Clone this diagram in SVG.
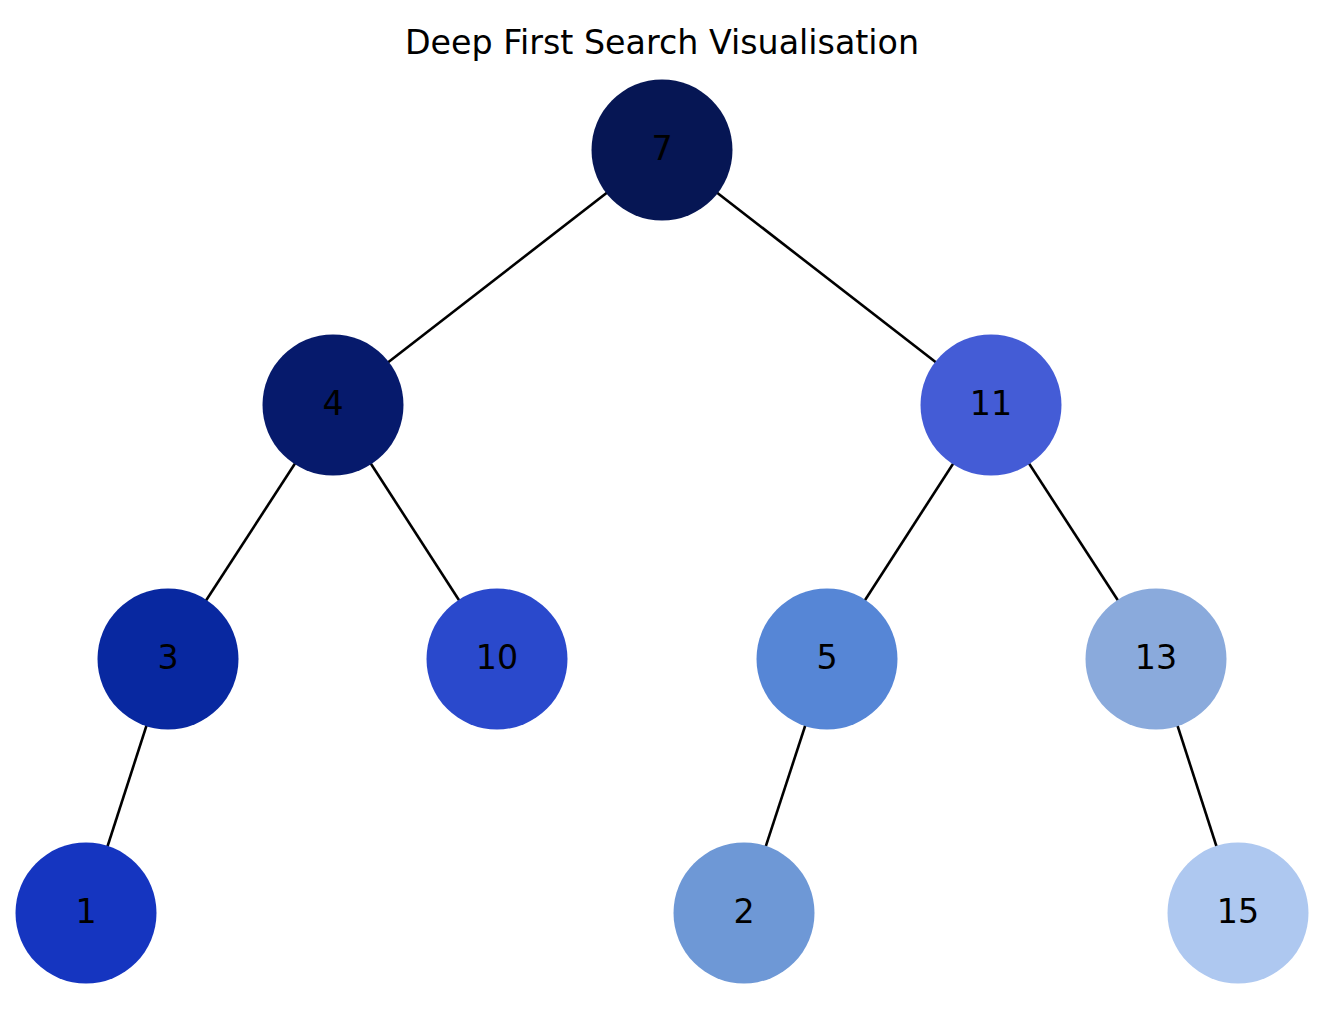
<svg xmlns="http://www.w3.org/2000/svg" width="1332" height="1018" viewBox="0 0 1332 1018">
<style>
text{font-family:"DejaVu Sans",sans-serif;font-size:33.3px;fill:#000;text-anchor:middle}
.e line{stroke:#000;stroke-width:2.6}
</style>
<rect width="1332" height="1018" fill="#fff"/>
<text x="662" y="54">Deep First Search Visualisation</text>
<g id="edges" class="e">
<line x1="662" y1="150" x2="333" y2="405"/>
<line x1="662" y1="150" x2="991" y2="405"/>
<line x1="333" y1="405" x2="168" y2="659"/>
<line x1="333" y1="405" x2="497" y2="659"/>
<line x1="991" y1="405" x2="827" y2="659"/>
<line x1="991" y1="405" x2="1156" y2="659"/>
<line x1="168" y1="659" x2="86" y2="913"/>
<line x1="827" y1="659" x2="744" y2="913"/>
<line x1="1156" y1="659" x2="1238" y2="913"/>
</g>
<g id="n7"><circle cx="662" cy="150" r="70.5" fill="#061654"/><text x="662" y="160">7</text></g>
<g id="n4"><circle cx="333" cy="405" r="70.5" fill="#061a6c"/><text x="333" y="415">4</text></g>
<g id="n11"><circle cx="991" cy="405" r="70.5" fill="#445cd6"/><text x="991" y="415">11</text></g>
<g id="n3"><circle cx="168" cy="659" r="70.5" fill="#0828a0"/><text x="168" y="669">3</text></g>
<g id="n10"><circle cx="497" cy="659" r="70.5" fill="#2a49cc"/><text x="497" y="669">10</text></g>
<g id="n5"><circle cx="827" cy="659" r="70.5" fill="#5686d6"/><text x="827" y="669">5</text></g>
<g id="n13"><circle cx="1156" cy="659" r="70.5" fill="#8aaadc"/><text x="1156" y="669">13</text></g>
<g id="n1"><circle cx="86" cy="913" r="70.5" fill="#1535c0"/><text x="86" y="923">1</text></g>
<g id="n2"><circle cx="744" cy="913" r="70.5" fill="#6e98d6"/><text x="744" y="923">2</text></g>
<g id="n15"><circle cx="1238" cy="913" r="70.5" fill="#aec8f0"/><text x="1238" y="923">15</text></g>
</svg>
